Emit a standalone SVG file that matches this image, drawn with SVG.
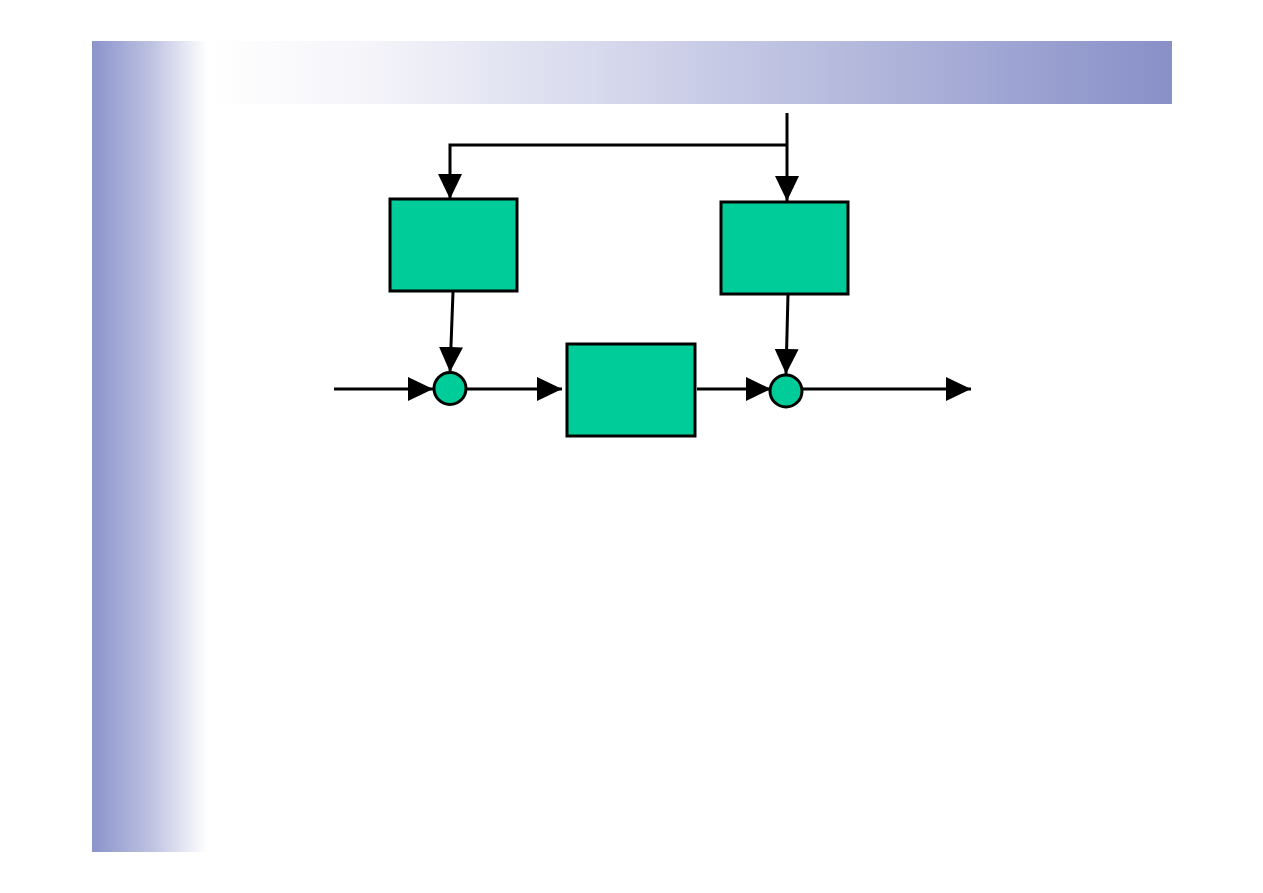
<svg xmlns="http://www.w3.org/2000/svg" width="1263" height="893" viewBox="0 0 1263 893">
<defs>
<linearGradient id="gLeft" x1="92" y1="0" x2="207" y2="0" gradientUnits="userSpaceOnUse">
<stop offset="0" stop-color="#8a93cb"/>
<stop offset="0.5" stop-color="#bcc0e0"/>
<stop offset="1" stop-color="#ffffff"/>
</linearGradient>
<linearGradient id="gTop" x1="207" y1="0" x2="1172" y2="0" gradientUnits="userSpaceOnUse">
<stop offset="0" stop-color="#ffffff"/>
<stop offset="0.16" stop-color="#f5f5fa"/>
<stop offset="0.4" stop-color="#d8daed"/>
<stop offset="1" stop-color="#8890c8"/>
</linearGradient>
<marker id="arr" viewBox="0 0 25 24" refX="25" refY="12" markerWidth="25" markerHeight="24" markerUnits="userSpaceOnUse" orient="auto">
<path d="M0,0 L25,12 L0,24 Z" fill="#000"/>
</marker>
<style>
.node{fill:#00cc99;stroke:#000;stroke-width:3}
.edge{fill:none;stroke:#000;stroke-width:3}
</style>
</defs>
<rect width="1263" height="893" fill="#fff"/>
<g id="background">
<rect x="207" y="41" width="965" height="63" fill="url(#gTop)"/>
<rect x="92" y="41" width="115" height="811" fill="url(#gLeft)"/>
</g>
<g id="connectors">
<path class="edge" d="M787,113 L787,201" marker-end="url(#arr)"/>
<path class="edge" d="M787,145 L450,145 L450,199" marker-end="url(#arr)"/>
<path class="edge" d="M453,292 L450,372" marker-end="url(#arr)"/>
<path class="edge" d="M788,294 L786,374" marker-end="url(#arr)"/>
<path class="edge" d="M334,389 L433,389" marker-end="url(#arr)"/>
<path class="edge" d="M466,389 L562,389" marker-end="url(#arr)"/>
<path class="edge" d="M697,389 L771,389" marker-end="url(#arr)"/>
<path class="edge" d="M802,389 L971,389" marker-end="url(#arr)"/>
</g>
<g id="boxLeft"><rect class="node" x="390" y="199" width="127" height="92"/></g>
<g id="boxRight"><rect class="node" x="721" y="202" width="127" height="92"/></g>
<g id="boxMiddle"><rect class="node" x="567" y="344" width="128" height="92"/></g>
<g id="sumLeft"><circle class="node" cx="450" cy="388.5" r="16"/></g>
<g id="sumRight"><circle class="node" cx="786" cy="391" r="16"/></g>
</svg>
